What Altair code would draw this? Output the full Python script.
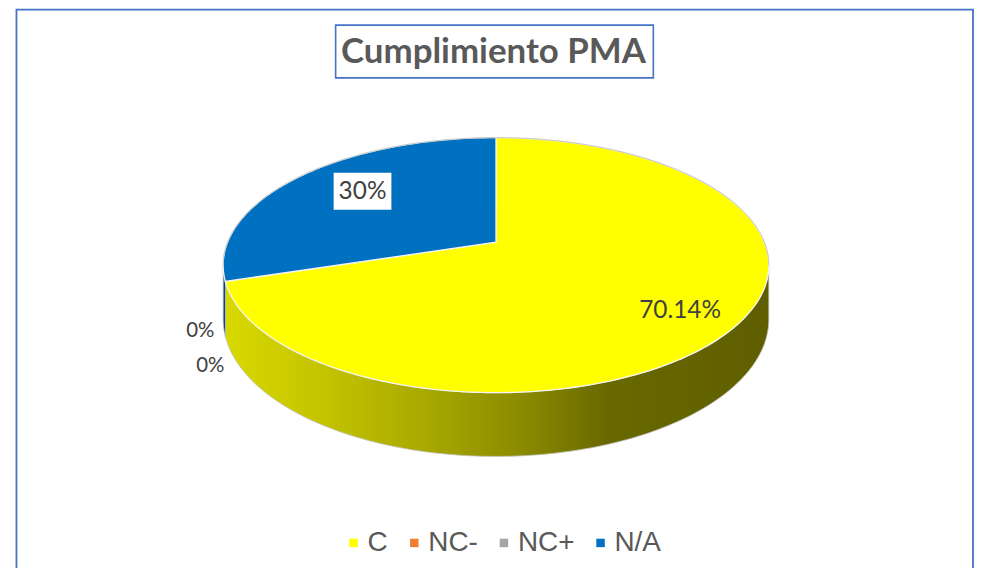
import math
import altair as alt

# ---------------- data ----------------
categories = ["C", "NC-", "NC+", "N/A"]
values = [70.14, 0.0, 0.0, 29.86]
label_texts = ["70.14%", "0%", "0%", "30%"]
colors = ["#FFFF00", "#ED7D31", "#A5A5A5", "#0070C0"]
chart_title = "Cumplimiento PMA"

# ---------------- layout / style ----------------
VIEW_W, VIEW_H = 970, 560
CX, CY = 490.0, 234.0      # pie centre in view px
RX = 269.5                 # horizontal radius
RY = 123.9                 # vertical (tilted) radius
PERSP = 0.18               # perspective strength
DEPTH = 52.5               # pie thickness
START = 90.0               # first slice starts at 12 o'clock, clockwise
LABEL_R = [0.78, 1.08, 1.08, 0.66]
LABEL_DY = [7.0, 0.0, 0.0, -5.0]
LABEL_SIZE = [24.5, 20.5, 20.5, 24.5]
LABEL_BOX = [False, False, False, True]
ZERO_DROP = (-2.0, 46.0)
ZERO_STEP = (10.0, 36.0)
SHADE = [(0.0, 0.85), (0.19, 0.76), (0.37, 0.66), (0.55, 0.54), (0.70, 0.41), (1.0, 0.37)]
BLUE_EDGE = "#4472C4"


def proj(theta, r=1.0, drop=0.0):
    t = math.radians(theta)
    u, v = r * math.cos(t), r * math.sin(t)
    k = 1.0 + PERSP * v
    return [CX + RX * u / k, CY - RY * v / k + drop / k]


def arc(a0, a1, r=1.0, drop=0.0):
    n = max(2, int(abs(a1 - a0) / 1.0) + 2)
    out = []
    for i in range(n):
        a = a0 + (a1 - a0) * i / (n - 1)
        k = 1.0 + PERSP * math.sin(math.radians(a))
        p = proj(a, r)
        p[1] += drop / k
        out.append(p)
    return out


def shade(hexcol, f):
    h = hexcol.lstrip("#")
    rgb = [int(h[i:i + 2], 16) for i in (0, 2, 4)]
    return "#" + "".join(f"{max(0, min(255, int(round(c * f)))):02x}" for c in rgb)


total = sum(values)
slices = []
a = START
for cat, val, col, lab in zip(categories, values, colors, label_texts):
    sweep = 360.0 * val / total
    slices.append(dict(cat=cat, val=val, color=col, label=lab, a0=a, a1=a - sweep))
    a -= sweep

t_sil = math.degrees(math.asin(PERSP))
VIS_LO, VIS_HI = -180.0 + t_sil, -t_sil   # visible front side range

# top faces
top_features = []
for s in slices:
    if s["val"] <= 0:
        continue
    ring = [[CX, CY]] + arc(s["a0"], s["a1"]) + [[CX, CY]]
    top_features.append({"type": "Feature", "properties": {"cat": s["cat"]},
                         "geometry": {"type": "Polygon", "coordinates": [ring]}})

# side faces (one layer per slice, gradient fill)
side_layers = []
for s in slices:
    if s["val"] <= 0:
        continue
    feats = []
    for k in (-1, 0, 1):
        lo = max(s["a1"], VIS_LO + 360 * k)
        hi = min(s["a0"], VIS_HI + 360 * k)
        if hi > lo:
            ring = arc(lo, hi) + arc(hi, lo, drop=DEPTH)
            ring.append(ring[0])
            feats.append({"type": "Feature", "properties": {"cat": s["cat"]},
                          "geometry": {"type": "Polygon", "coordinates": [ring]}})
    if not feats:
        continue
    grad = alt.LinearGradient(
        gradient="linear", x1=0, x2=1, y1=0, y2=0,
        stops=[alt.GradientStop(offset=o, color=shade(s["color"], f)) for o, f in SHADE])
    side_layers.append(
        alt.Chart(alt.Data(values=feats)).mark_geoshape(
            fill=grad, stroke="#c4c4c4", strokeWidth=0.8
        ).project(type="identity", scale=1, translate=[0, 0])
    )

# back rim outline
rim = {"type": "Feature", "properties": {},
       "geometry": {"type": "LineString", "coordinates": arc(VIS_HI, VIS_LO + 360)}}

# labels
label_rows, box_features = [], []
zi = 0
for s, rr, dy, fs, bx in zip(slices, LABEL_R, LABEL_DY, LABEL_SIZE, LABEL_BOX):
    mid = (s["a0"] + s["a1"]) / 2.0
    p = proj(mid, rr)
    p[1] += dy
    if s["val"] <= 0:
        p = [p[0] + ZERO_DROP[0] + zi * ZERO_STEP[0], p[1] + ZERO_DROP[1] + zi * ZERO_STEP[1]]
        zi += 1
    label_rows.append({"lon": p[0], "lat": p[1], "text": s["label"], "fs": fs})
    if bx:
        w, h = 29.0, 18.5
        ring = [[p[0] - w, p[1] - h - 1], [p[0] + w, p[1] - h - 1], [p[0] + w, p[1] + h - 1],
                [p[0] - w, p[1] + h - 1], [p[0] - w, p[1] - h - 1]]
        box_features.append({"type": "Feature", "properties": {},
                             "geometry": {"type": "Polygon", "coordinates": [ring]}})

one = alt.Data(values=[{}])

border = alt.Chart(one).mark_rect(filled=False, stroke=BLUE_EDGE, strokeWidth=1.8).encode(
    x=alt.value(8.5), x2=alt.value(969), y=alt.value(0.5), y2=alt.value(620))

title_box = alt.Chart(one).mark_rect(fill="white", stroke=BLUE_EDGE, strokeWidth=1.6).encode(
    x=alt.value(329), x2=alt.value(648), y=alt.value(16), y2=alt.value(69))

title = alt.Chart(alt.Data(values=[{"t": chart_title}])).mark_text(
    font="Lato", fontWeight="bold", fontSize=35, color="#595959", align="center", baseline="alphabetic"
).encode(text="t:N", x=alt.value(487.5), y=alt.value(54))

top = alt.Chart(alt.Data(values=top_features)).mark_geoshape(
    stroke="#f4f4f4", strokeWidth=1.3
).encode(
    color=alt.Color(
        "properties.cat:N",
        scale=alt.Scale(domain=categories, range=colors),
        legend=alt.Legend(
            title=None, orient="none", legendX=333, legendY=522, direction="horizontal",
            symbolType="square", symbolSize=72, symbolStrokeWidth=0,
            labelFont="Liberation Sans", labelFontSize=28, labelColor="#595959",
            labelOffset=0, columnPadding=12, padding=0,
        ),
    )
).project(type="identity", scale=1, translate=[0, 0])

rim_layer = alt.Chart(alt.Data(values=[rim])).mark_geoshape(
    filled=False, stroke="#c4c4c4", strokeWidth=1
).project(type="identity", scale=1, translate=[0, 0])

layers = [border, title_box, title] + side_layers + [top, rim_layer]

if box_features:
    layers.append(
        alt.Chart(alt.Data(values=box_features)).mark_geoshape(fill="white", stroke="white", strokeWidth=0)
        .project(type="identity", scale=1, translate=[0, 0])
    )

labels = alt.Chart(alt.Data(values=label_rows)).mark_text(
    font="Lato", color="#404040", align="center", baseline="middle"
).encode(
    longitude="lon:Q", latitude="lat:Q", text="text:N", size=alt.Size("fs:Q", scale=None, legend=None)
).project(type="identity", scale=1, translate=[0, 0])
layers.append(labels)

chart = alt.layer(*layers).properties(
    width=VIEW_W, height=VIEW_H, padding=0, autosize=alt.AutoSizeParams(type="none"),
    background="white",
).configure_view(stroke=None)

chart.save("out.html", embed_options={"renderer": "svg", "actions": False})
